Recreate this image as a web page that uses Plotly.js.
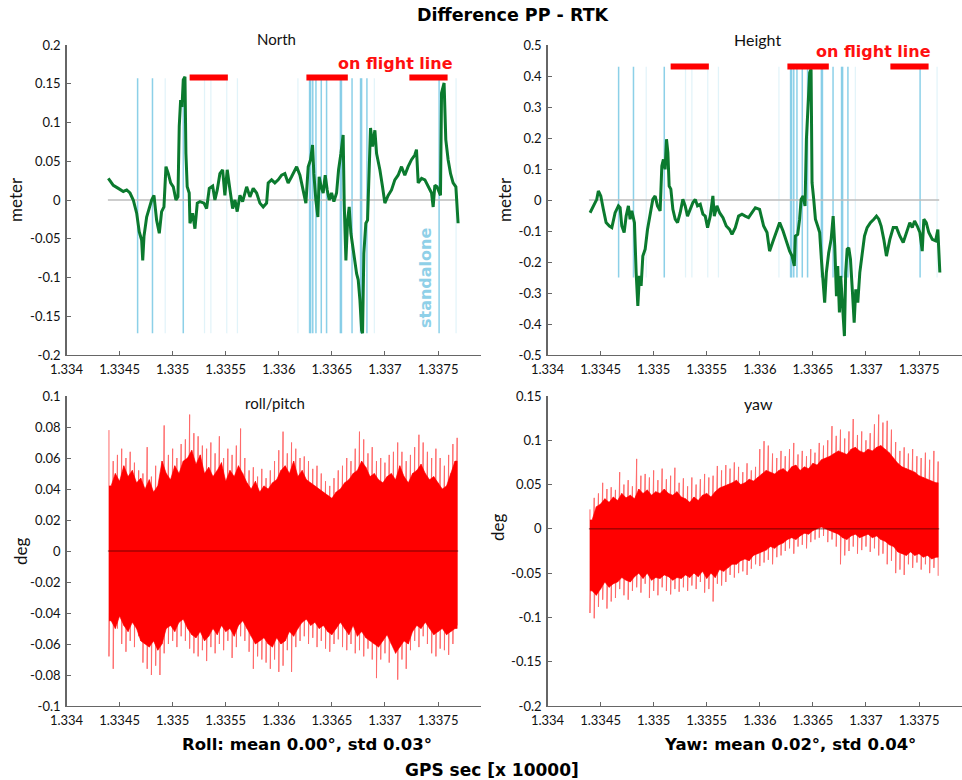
<!DOCTYPE html>
<html>
<head>
<meta charset="utf-8">
<script src="https://cdn.plot.ly/plotly-3.0.1.min.js"></script>
<style>html,body{margin:0;padding:0;background:#fff;}#chart{width:962px;height:780px;}</style>
</head>
<body>
<div id="chart"></div>
<script>
// ---------------- DATA ----------------
const xTickVals = [1.334, 1.3345, 1.335, 1.3355, 1.336, 1.3365, 1.337, 1.3375];
const xTickText = ['1.334', '1.3345', '1.335', '1.3355', '1.336', '1.3365', '1.337', '1.3375'];

const northTickVals = [-0.2, -0.15, -0.1, -0.05, 0, 0.05, 0.1, 0.15, 0.2];
const northTickText = ['-0.2', '-0.15', '-0.1', '-0.05', '0', '0.05', '0.1', '0.15', '0.2'];
const heightTickVals = [-0.5, -0.4, -0.3, -0.2, -0.1, 0, 0.1, 0.2, 0.3, 0.4, 0.5];
const heightTickText = ['-0.5', '-0.4', '-0.3', '-0.2', '-0.1', '0', '0.1', '0.2', '0.3', '0.4', '0.5'];
const rollTickVals = [-0.1, -0.08, -0.06, -0.04, -0.02, 0, 0.02, 0.04, 0.06, 0.08, 0.1];
const rollTickText = ['-0.1', '-0.08', '-0.06', '-0.04', '-0.02', '0', '0.02', '0.04', '0.06', '0.08', '0.1'];
const yawTickVals = [-0.2, -0.15, -0.1, -0.05, 0, 0.05, 0.1, 0.15];
const yawTickText = ['-0.2', '-0.15', '-0.1', '-0.05', '0', '0.05', '0.1', '0.15'];

// North difference (m)
const northX = [1.334394,1.334441,1.334488,1.334535,1.334567,1.334598,1.334629,1.334661,1.334685,1.334708,
1.334718,1.33473,1.334755,1.334786,1.334802,1.334824,1.334849,1.334874,1.334896,1.334918,
1.334937,1.334959,1.334981,1.335006,1.335031,1.33505,1.335062,1.335075,1.335088,1.3351,
1.335116,1.335125,1.335137,1.335156,1.335163,1.335188,1.33521,1.335232,1.335257,1.335295,
1.33532,1.335345,1.335377,1.335398,1.33542,1.335445,1.335471,1.335492,1.335514,1.33554,
1.335565,1.335587,1.335608,1.335634,1.335659,1.335697,1.335728,1.335759,1.335791,1.335822,
1.335853,1.335885,1.3359,1.335932,1.335963,1.335994,1.336026,1.336057,1.336088,1.33612,
1.336168,1.336199,1.33623,1.336255,1.336277,1.336299,1.336318,1.33633,1.336349,1.336368,
1.33638,1.336399,1.336418,1.336437,1.336456,1.336475,1.336497,1.336519,1.336544,1.336563,
1.336585,1.336606,1.336616,1.336632,1.336648,1.336663,1.336679,1.336695,1.336717,1.336733,
1.336748,1.336764,1.33678,1.336789,1.336801,1.33682,1.336836,1.336851,1.336864,1.336883,
1.336905,1.336921,1.336952,1.336977,1.336999,1.33703,1.337062,1.337093,1.337124,1.337156,
1.337187,1.337218,1.33725,1.337281,1.337297,1.337313,1.337345,1.337376,1.337407,1.337439,
1.337454,1.33747,1.337491,1.33751,1.337523,1.337533,1.337548,1.337557,1.337573,1.337595,
1.337618,1.337642,1.337668,1.33768,1.337689];
const northY = [0.028,0.019,0.015,0.011,0.013,0.009,0.0,-0.017,-0.041,-0.052,
-0.078,-0.047,-0.022,-0.009,0.0,0.006,-0.026,-0.043,-0.015,-0.009,
0.043,0.034,0.022,0.017,0.0,0.004,0.095,0.129,0.12,0.155,
0.159,0.06,0.017,0.009,-0.03,-0.017,-0.037,-0.004,-0.002,-0.004,
-0.011,0.015,0.018,0.0,0.013,0.034,0.039,0.006,0.039,0.013,
-0.011,0.0,-0.015,0.006,-0.002,0.017,0.004,0.015,0.009,-0.004,
-0.009,-0.004,0.022,0.026,0.022,0.026,0.032,0.034,0.022,0.030,
0.043,0.032,0.013,-0.004,0.043,0.052,0.071,0.034,0.0,-0.022,
0.030,0.017,0.009,0.032,0.013,0.0,0.009,-0.002,0.009,0.039,
0.060,0.084,-0.004,-0.078,-0.026,-0.009,-0.043,-0.060,-0.082,-0.095,
-0.103,-0.129,-0.168,-0.172,-0.069,-0.030,-0.026,0.052,0.093,0.069,
0.090,0.060,0.039,0.017,-0.004,0.006,0.013,0.026,0.032,0.043,
0.032,0.043,0.052,0.058,0.065,0.022,0.028,0.026,0.017,0.009,
-0.009,0.019,0.017,0.009,0.006,0.138,0.146,0.151,0.078,0.052,
0.034,0.022,0.017,-0.015,-0.030];

// Height difference (m)
const heightX = [1.334401,1.334432,1.334464,1.334479,1.334502,1.334526,1.334552,1.334583,1.334606,1.334637,
1.334668,1.334684,1.3347,1.334722,1.334741,1.334762,1.334778,1.334794,1.334819,1.334835,
1.334851,1.334866,1.334882,1.334898,1.33492,1.334942,1.334967,1.334992,1.335014,1.335036,
1.335061,1.335077,1.335092,1.335108,1.335121,1.335134,1.335146,1.335162,1.335181,1.335203,
1.335225,1.33525,1.335275,1.335297,1.335319,1.335344,1.33537,1.335392,1.335413,1.335439,
1.335464,1.335486,1.335508,1.335533,1.335558,1.335571,1.335596,1.335621,1.335653,1.335684,
1.335715,1.335738,1.335769,1.3358,1.335832,1.335863,1.335894,1.335926,1.335958,1.335998,
1.336036,1.336068,1.336092,1.336125,1.336156,1.336187,1.336219,1.33625,1.336281,1.336304,
1.336325,1.336335,1.336357,1.336375,1.336389,1.336408,1.336426,1.336439,1.336455,1.33647,
1.336483,1.336492,1.336508,1.336524,1.336545,1.336564,1.33658,1.336596,1.336611,1.336627,
1.336649,1.336672,1.336691,1.336706,1.336722,1.336734,1.33675,1.336762,1.336778,1.336797,
1.336809,1.336823,1.336838,1.336854,1.336873,1.336889,1.336904,1.336923,1.336942,1.336964,
1.336986,1.337011,1.337042,1.337074,1.337099,1.337121,1.337143,1.337168,1.337193,1.337225,
1.337257,1.337288,1.337319,1.337351,1.337382,1.337413,1.337436,1.337458,1.337483,1.337508,
1.33753,1.337545,1.337568,1.337592,1.337625,1.337656,1.337677,1.337687,1.337696];
const heightY = [-0.041,-0.019,0.002,0.029,0.013,-0.030,-0.073,-0.084,-0.089,-0.041,
-0.019,-0.025,-0.084,-0.105,-0.052,-0.019,-0.062,-0.035,-0.073,-0.234,
-0.342,-0.245,-0.277,-0.181,-0.159,-0.095,-0.041,0.002,0.013,-0.019,
-0.035,0.110,0.131,0.099,0.196,0.153,0.045,0.035,-0.030,-0.062,
-0.073,-0.041,0.002,-0.019,-0.052,-0.030,-0.008,0.002,-0.019,-0.014,
-0.046,-0.052,-0.089,-0.052,0.013,-0.052,-0.019,-0.041,-0.057,-0.084,
-0.095,-0.111,-0.089,-0.052,-0.046,-0.052,-0.057,-0.041,-0.025,-0.030,
-0.084,-0.105,-0.165,-0.132,-0.100,-0.073,-0.100,-0.132,-0.165,-0.181,
-0.213,-0.116,-0.111,-0.062,0.002,0.013,-0.019,0.196,0.293,0.411,
0.422,0.056,0.002,-0.062,-0.084,-0.105,-0.191,-0.277,-0.331,-0.234,
-0.170,-0.127,-0.052,-0.148,-0.310,-0.213,-0.363,-0.245,-0.320,-0.439,
-0.234,-0.159,-0.154,-0.191,-0.299,-0.396,-0.288,-0.331,-0.234,-0.170,
-0.116,-0.089,-0.073,-0.062,-0.052,-0.062,-0.084,-0.127,-0.181,-0.127,
-0.089,-0.089,-0.116,-0.137,-0.105,-0.073,-0.089,-0.068,-0.084,-0.105,
-0.165,-0.062,-0.073,-0.105,-0.127,-0.132,-0.095,-0.191,-0.234];

// standalone epochs (strong and faint marks)
const standaloneX = [1.33467,1.33481,1.33510,1.33629,1.33630,1.33632,1.33635,1.33640,1.33645,1.33658,1.33659,1.33669,1.33677,1.33678,1.33683,1.33751];
const standaloneFaintX = [1.33493,1.33530,1.33536,1.33551,1.33561,1.33618,1.33690,1.33767];
const standaloneNorthRange = [-0.172, 0.157];
const standaloneHeightRange = [-0.25, 0.43];

// on flight line segments
const flightStart = [1.33516, 1.33626, 1.33723];
const flightEnd = [1.33552, 1.33665, 1.33759];
const flightLevelNorth = 0.158;
const flightLevelHeight = 0.431;

// data start/end for zero reference lines
const dataSpan = [1.33439, 1.33769];

// attitude differences (deg): spike extremes per time bin (odd bins = inner dense level)
const attX = [1.33440,1.33442,1.33444,1.33446,1.33448,1.33450,1.33452,1.33454,1.33456,1.33458,
1.33460,1.33462,1.33464,1.33466,1.33468,1.33470,1.33472,1.33474,1.33476,1.33478,
1.33480,1.33482,1.33484,1.33486,1.33488,1.33490,1.33492,1.33494,1.33496,1.33498,
1.33500,1.33502,1.33504,1.33506,1.33508,1.33510,1.33512,1.33514,1.33516,1.33518,
1.33520,1.33522,1.33524,1.33526,1.33528,1.33530,1.33532,1.33534,1.33536,1.33538,
1.33540,1.33542,1.33544,1.33546,1.33548,1.33550,1.33552,1.33554,1.33556,1.33558,
1.33560,1.33562,1.33564,1.33566,1.33568,1.33570,1.33572,1.33574,1.33576,1.33578,
1.33580,1.33582,1.33584,1.33586,1.33588,1.33590,1.33592,1.33594,1.33596,1.33598,
1.33600,1.33602,1.33604,1.33606,1.33608,1.33610,1.33612,1.33614,1.33616,1.33618,
1.33620,1.33622,1.33624,1.33626,1.33628,1.33630,1.33632,1.33634,1.33636,1.33638,
1.33640,1.33642,1.33644,1.33646,1.33648,1.33650,1.33652,1.33654,1.33656,1.33658,
1.33660,1.33662,1.33664,1.33666,1.33668,1.33670,1.33672,1.33674,1.33676,1.33678,
1.33680,1.33682,1.33684,1.33686,1.33688,1.33690,1.33692,1.33694,1.33696,1.33698,
1.33700,1.33702,1.33704,1.33706,1.33708,1.33710,1.33712,1.33714,1.33716,1.33718,
1.33720,1.33722,1.33724,1.33726,1.33728,1.33730,1.33732,1.33734,1.33736,1.33738,
1.33740,1.33742,1.33744,1.33746,1.33748,1.33750,1.33752,1.33754,1.33756,1.33758,
1.33760,1.33762,1.33764,1.33766,1.33768];
const rollHi = [0.078,0.042,0.058,0.050,0.062,0.045,0.066,0.055,0.060,0.048,
0.064,0.052,0.057,0.044,0.052,0.047,0.050,0.040,0.067,0.046,
0.048,0.038,0.055,0.042,0.045,0.058,0.081,0.050,0.062,0.046,
0.066,0.055,0.060,0.050,0.069,0.058,0.072,0.060,0.088,0.065,
0.076,0.056,0.074,0.062,0.068,0.050,0.066,0.054,0.070,0.048,
0.063,0.052,0.074,0.057,0.060,0.045,0.066,0.052,0.062,0.048,
0.068,0.055,0.079,0.050,0.060,0.044,0.052,0.040,0.054,0.045,
0.048,0.038,0.053,0.042,0.047,0.040,0.052,0.044,0.058,0.046,
0.065,0.052,0.077,0.055,0.063,0.050,0.070,0.058,0.066,0.048,
0.060,0.052,0.061,0.046,0.058,0.044,0.053,0.042,0.055,0.040,
0.050,0.038,0.045,0.036,0.042,0.034,0.047,0.038,0.052,0.040,
0.055,0.044,0.060,0.046,0.058,0.050,0.066,0.052,0.077,0.058,
0.072,0.054,0.063,0.048,0.067,0.050,0.058,0.046,0.060,0.044,
0.057,0.048,0.062,0.050,0.064,0.046,0.070,0.055,0.064,0.048,
0.058,0.044,0.062,0.050,0.067,0.052,0.075,0.056,0.070,0.050,
0.064,0.046,0.060,0.048,0.066,0.044,0.060,0.040,0.055,0.042,
0.062,0.050,0.069,0.058,0.073];
const rollLo = [-0.068,-0.045,-0.076,-0.050,-0.050,-0.042,-0.060,-0.048,-0.065,-0.052,
-0.058,-0.046,-0.062,-0.050,-0.055,-0.058,-0.072,-0.060,-0.076,-0.062,
-0.080,-0.058,-0.074,-0.064,-0.080,-0.060,-0.066,-0.050,-0.060,-0.048,
-0.058,-0.052,-0.062,-0.046,-0.055,-0.044,-0.058,-0.050,-0.063,-0.054,
-0.066,-0.056,-0.068,-0.052,-0.064,-0.058,-0.071,-0.055,-0.062,-0.050,
-0.066,-0.054,-0.060,-0.048,-0.064,-0.052,-0.058,-0.050,-0.069,-0.055,
-0.062,-0.048,-0.055,-0.045,-0.058,-0.050,-0.065,-0.055,-0.076,-0.060,
-0.068,-0.058,-0.070,-0.056,-0.072,-0.060,-0.076,-0.062,-0.070,-0.056,
-0.078,-0.060,-0.074,-0.058,-0.064,-0.052,-0.078,-0.055,-0.062,-0.050,
-0.058,-0.046,-0.055,-0.044,-0.060,-0.048,-0.056,-0.046,-0.062,-0.050,
-0.058,-0.048,-0.063,-0.052,-0.065,-0.054,-0.060,-0.050,-0.057,-0.046,
-0.062,-0.050,-0.064,-0.054,-0.060,-0.048,-0.066,-0.055,-0.064,-0.052,
-0.068,-0.056,-0.063,-0.058,-0.070,-0.060,-0.082,-0.062,-0.070,-0.058,
-0.066,-0.054,-0.072,-0.060,-0.060,-0.066,-0.083,-0.062,-0.070,-0.058,
-0.076,-0.060,-0.064,-0.052,-0.058,-0.048,-0.062,-0.050,-0.055,-0.046,
-0.060,-0.050,-0.066,-0.054,-0.068,-0.052,-0.063,-0.050,-0.064,-0.054,
-0.067,-0.052,-0.060,-0.050,-0.048];
const yawHi = [0.022,0.010,0.035,0.025,0.040,0.028,0.052,0.034,0.045,0.030,
0.047,0.036,0.044,0.032,0.064,0.040,0.050,0.035,0.055,0.038,
0.048,0.034,0.079,0.045,0.060,0.040,0.062,0.044,0.058,0.038,
0.066,0.042,0.055,0.040,0.068,0.045,0.056,0.040,0.060,0.038,
0.069,0.042,0.052,0.036,0.057,0.034,0.048,0.030,0.058,0.036,
0.050,0.032,0.056,0.038,0.062,0.040,0.058,0.036,0.060,0.042,
0.071,0.046,0.066,0.048,0.072,0.050,0.068,0.052,0.075,0.055,
0.070,0.050,0.064,0.052,0.074,0.056,0.066,0.054,0.070,0.058,
0.090,0.062,0.099,0.066,0.094,0.064,0.085,0.062,0.080,0.066,
0.088,0.068,0.082,0.064,0.090,0.070,0.097,0.072,0.084,0.066,
0.088,0.070,0.082,0.068,0.090,0.074,0.086,0.072,0.097,0.078,
0.094,0.080,0.100,0.082,0.116,0.085,0.105,0.088,0.112,0.086,
0.102,0.084,0.110,0.090,0.124,0.092,0.106,0.088,0.110,0.086,
0.100,0.090,0.108,0.088,0.118,0.092,0.129,0.094,0.120,0.090,
0.122,0.086,0.112,0.080,0.098,0.074,0.088,0.070,0.092,0.068,
0.085,0.066,0.090,0.064,0.082,0.060,0.080,0.058,0.086,0.056,
0.078,0.054,0.088,0.052,0.076];
const yawLo = [-0.095,-0.070,-0.101,-0.075,-0.088,-0.068,-0.080,-0.060,-0.090,-0.066,
-0.082,-0.062,-0.078,-0.060,-0.068,-0.055,-0.075,-0.058,-0.080,-0.060,
-0.070,-0.054,-0.066,-0.050,-0.072,-0.056,-0.062,-0.050,-0.078,-0.058,
-0.070,-0.055,-0.075,-0.056,-0.066,-0.052,-0.070,-0.054,-0.074,-0.058,
-0.068,-0.055,-0.071,-0.056,-0.066,-0.052,-0.070,-0.055,-0.064,-0.050,
-0.068,-0.054,-0.060,-0.048,-0.072,-0.056,-0.068,-0.050,-0.082,-0.055,
-0.062,-0.046,-0.064,-0.048,-0.060,-0.044,-0.052,-0.040,-0.055,-0.040,
-0.050,-0.036,-0.048,-0.034,-0.052,-0.036,-0.045,-0.030,-0.040,-0.028,
-0.042,-0.026,-0.038,-0.024,-0.035,-0.020,-0.040,-0.022,-0.032,-0.018,
-0.030,-0.016,-0.025,-0.012,-0.022,-0.010,-0.028,-0.012,-0.020,-0.008,
-0.018,-0.005,-0.022,-0.006,-0.015,-0.002,-0.012,0.000,-0.010,0.002,
-0.008,0.000,-0.015,-0.002,-0.012,-0.004,-0.020,-0.006,-0.040,-0.010,
-0.030,-0.012,-0.025,-0.008,-0.020,-0.006,-0.028,-0.010,-0.024,-0.008,
-0.020,-0.006,-0.026,-0.010,-0.022,-0.008,-0.030,-0.012,-0.028,-0.014,
-0.040,-0.018,-0.036,-0.020,-0.050,-0.026,-0.046,-0.028,-0.052,-0.030,
-0.040,-0.026,-0.044,-0.030,-0.038,-0.028,-0.046,-0.032,-0.040,-0.030,
-0.050,-0.034,-0.044,-0.032,-0.053];

// ---------------- HELPERS ----------------
function vlines(xs, range) {
  const x = [], y = [];
  xs.forEach(v => { x.push(v, v, null); y.push(range[0], range[1], null); });
  return {x, y};
}
function segs(s, e, level) {
  const x = [], y = [];
  s.forEach((v, i) => { x.push(v, e[i], null); y.push(level, level, null); });
  return {x, y};
}
function zig(xs, hi, lo) {
  const x = [], y = [];
  xs.forEach((v, i) => { x.push(v, v); y.push(hi[i], lo[i]); });
  return {x, y};
}
// solid inner band through the odd (inner) bins
function innerBand(xs, hi, lo) {
  const ix = [], ih = [], il = [];
  xs.forEach((v, i) => { if (i % 2 === 1 || i === 0 || i === xs.length - 1) { ix.push(v); ih.push(i % 2 === 1 ? hi[i] : hi[i + (i === 0 ? 1 : -1)]); il.push(i % 2 === 1 ? lo[i] : lo[i + (i === 0 ? 1 : -1)]); } });
  return {x: ix.concat(ix.slice().reverse()), y: ih.concat(il.slice().reverse())};
}

const GREEN = '#0b7a2e';
const BLUE = 'rgba(120,200,228,0.85)';
const BLUE_FAINT = 'rgba(170,220,238,0.35)';
const RED = '#ff0000';

const traces = [];
function addPosPanel(xa, ya, dataX, dataY, vr, level) {
  const f = vlines(standaloneFaintX, vr);
  traces.push({x: f.x, y: f.y, xaxis: xa, yaxis: ya, mode: 'lines', line: {color: BLUE_FAINT, width: 1.2}, hoverinfo: 'skip'});
  const s = vlines(standaloneX, vr);
  traces.push({x: s.x, y: s.y, xaxis: xa, yaxis: ya, mode: 'lines', line: {color: BLUE, width: 1.5}, hoverinfo: 'skip'});
  traces.push({x: dataSpan, y: [0, 0], xaxis: xa, yaxis: ya, mode: 'lines', line: {color: '#bdbdbd', width: 1.3}, hoverinfo: 'skip'});
  traces.push({x: dataX, y: dataY, xaxis: xa, yaxis: ya, mode: 'lines', line: {color: GREEN, width: 3}});
  const b = segs(flightStart, flightEnd, level);
  traces.push({x: b.x, y: b.y, xaxis: xa, yaxis: ya, mode: 'lines', line: {color: RED, width: 6}, hoverinfo: 'skip'});
}
addPosPanel('x', 'y', northX, northY, standaloneNorthRange, flightLevelNorth);
addPosPanel('x2', 'y2', heightX, heightY, standaloneHeightRange, flightLevelHeight);

function addAttPanel(xa, ya, hi, lo) {
  const z = zig(attX, hi, lo);
  traces.push({x: z.x, y: z.y, xaxis: xa, yaxis: ya, mode: 'lines', line: {color: '#ff6a6a', width: 1}});
  const c = innerBand(attX, hi, lo);
  traces.push({x: c.x, y: c.y, xaxis: xa, yaxis: ya, mode: 'lines', fill: 'toself', fillcolor: RED, line: {color: RED, width: 0.6}, hoverinfo: 'skip'});
  traces.push({x: dataSpan, y: [0, 0], xaxis: xa, yaxis: ya, mode: 'lines', line: {color: 'rgba(60,0,0,0.7)', width: 1}, hoverinfo: 'skip'});
}
addAttPanel('x3', 'y3', rollHi, rollLo);
addAttPanel('x4', 'y4', yawHi, yawLo);

// ---------------- LAYOUT ----------------
const W = 962, H = 780;
const tickFont = {family: 'Lato, "Open Sans", sans-serif', size: 13, color: '#111'};
function xax(domain, anchor) {
  return {domain: domain, anchor: anchor, range: [1.334, 1.3379], tickvals: xTickVals, ticktext: xTickText,
    showline: true, linecolor: '#666', linewidth: 1.3, ticks: 'inside', ticklen: 4, tickcolor: '#666',
    ticklabelstandoff: 2,
    showgrid: false, zeroline: false, tickfont: tickFont, fixedrange: true};
}
function yax(domain, anchor, range, vals, text) {
  return {domain: domain, anchor: anchor, range: range, tickvals: vals, ticktext: text,
    showline: true, linecolor: '#666', linewidth: 1.3, ticks: 'inside', ticklen: 4, tickcolor: '#666',
    ticklabelstandoff: 2,
    showgrid: false, zeroline: false, tickfont: tickFont, fixedrange: true};
}
const leftX = [66.5 / W, 480.5 / W];
const rightX = [547.5 / W, 961.5 / W];
const topY = [1 - 355 / H, 1 - 45 / H];
const botY = [1 - 706 / H, 1 - 396 / H];

const boldFont = (size, color) => ({family: '"DejaVu Sans", Verdana, sans-serif', size: size, color: color || '#000'});
const regFont = (size) => ({family: 'Lato, "Open Sans", sans-serif', size: size, color: '#111'});
function ann(text, px, py, font, angle) {
  return {text: text, x: px / W, y: 1 - py / H, xref: 'paper', yref: 'paper', showarrow: false,
    xanchor: 'center', yanchor: 'middle', font: font, textangle: angle || 0};
}

const layout = {
  width: W, height: H, margin: {l: 0, r: 0, t: 0, b: 0}, showlegend: false,
  paper_bgcolor: '#fff', plot_bgcolor: 'rgba(0,0,0,0)',
  xaxis: xax(leftX, 'y'), yaxis: yax(topY, 'x', [-0.2, 0.2], northTickVals, northTickText),
  xaxis2: xax(rightX, 'y2'), yaxis2: yax(topY, 'x2', [-0.5, 0.5], heightTickVals, heightTickText),
  xaxis3: xax(leftX, 'y3'), yaxis3: yax(botY, 'x3', [-0.1, 0.1], rollTickVals, rollTickText),
  xaxis4: xax(rightX, 'y4'), yaxis4: yax(botY, 'x4', [-0.2, 0.15], yawTickVals, yawTickText),
  annotations: [
    ann('<b>Difference PP - RTK</b>', 513, 15, boldFont(17.5)),
    ann('North', 276, 39, regFont(15)),
    ann('Height', 757, 39, regFont(16)),
    ann('roll/pitch', 275, 403, regFont(15)),
    ann('yaw', 758, 403, regFont(16)),
    ann('meter', 16, 200, regFont(17), -90),
    ann('meter', 505, 200, regFont(17), -90),
    ann('deg', 20, 552, regFont(17), -90),
    ann('deg', 497, 528, regFont(17), -90),
    ann('<b>Roll: mean 0.00°, std 0.03°</b>', 307, 744, boldFont(16.5)),
    ann('<b>Yaw: mean 0.02°, std 0.04°</b>', 790, 744, boldFont(16.5)),
    ann('<b>GPS sec [x 10000]</b>', 492, 770, boldFont(17)),
    ann('<b>on flight line</b>', 395, 63, boldFont(16, '#ff1010')),
    ann('<b>on flight line</b>', 873, 52, boldFont(16, '#ff1010')),
    ann('<b>standalone</b>', 425, 278, boldFont(16, '#8fd0e8'), -90)
  ]
};

Plotly.newPlot('chart', traces, layout, {staticPlot: true, displayModeBar: false});
</script>
</body>
</html>
